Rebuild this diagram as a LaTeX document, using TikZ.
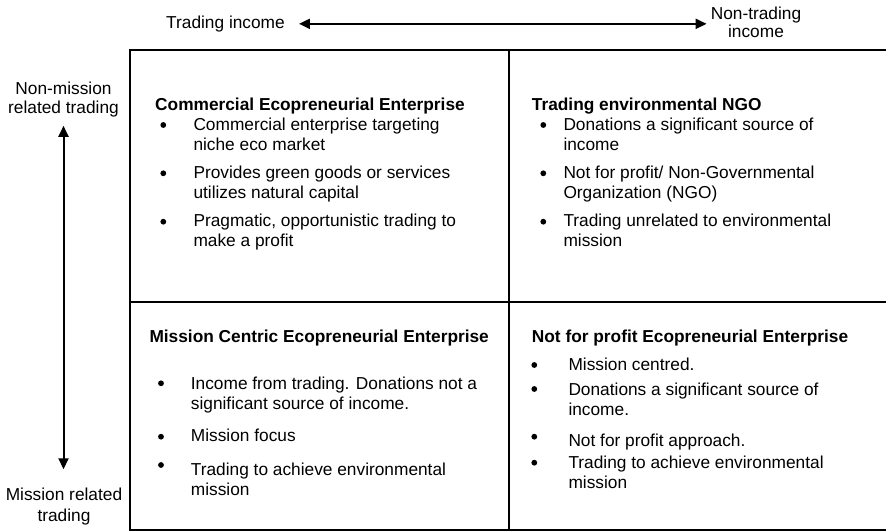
\documentclass[tikz,border=0pt]{standalone}
\usepackage{fontspec}
\setmainfont{Liberation Sans}
\usepackage{tikz}
\usetikzlibrary{arrows.meta}
\usetikzlibrary{positioning}
\tikzset{>={Triangle[length=11pt,width=10pt]},
  lbl/.style={font=\fontsize{17.3}{20}\selectfont, inner sep=0pt, align=center},
  txt/.style={font=\fontsize{17.3}{20}\selectfont, inner sep=0pt, align=left, anchor=base west},
  head/.style={txt, font=\fontsize{17.3}{20}\selectfont\bfseries},
  frame/.style={line width=2pt},
  axis/.style={<->, line width=2pt}}

\begin{document}
\begin{tikzpicture}[x=1pt,y=-1pt,line cap=round]

  \useasboundingbox (0,0) rectangle (886,532);

  % axes (a node's base is the baseline of its last line)
  \node [lbl, anchor=base west] (trade) at (166,28.3) {Trading income};
  \node [lbl, anchor=base, font=\fontsize{17.3}{18}\selectfont] (nontrade) at (756,37.3) {Non-trading\\income};
  \draw [axis, shorten <=14pt, shorten >=4pt] (trade.east) -- (nontrade.west |- trade.east);

  \node [lbl, anchor=base] (nonmis) at (63.5,114) {Non-mission\\related trading};
  \node [lbl, anchor=base, font=\fontsize{17.3}{21.7}\selectfont] (mis) at (64,521.7) {Mission related\\trading};
  \draw [axis, shorten <=8pt, shorten >=18pt] (nonmis.south) -- (nonmis.south |- mis.north);

  % grid
  \draw [frame] (130,50) rectangle (892,529.5);
  \draw [frame] (509.3,50) -- (509.3,529.5);
  \draw [frame] (130,301.7) -- (892,301.7);

  \foreach \x/\y in {163.3/125, 163.3/173.3, 163.3/221.7,
                     543.3/125, 543.3/173.3, 543.3/221.7,
                     161/383.3, 161/436.7, 161/465,
                     534.3/365, 534.3/389, 534.3/436.7, 534.3/462.7}
    \fill (\x,\y) circle (2.9pt);

  \node [head] (comm) at (155,110.7) {Commercial Ecopreneurial Enterprise};
  \node [txt] (comm1) at (193.3,150) {Commercial enterprise targeting\\niche eco market};
  \node [txt] (comm2) at (193.3,198.3) {Provides green goods or services\\utilizes natural capital};
  \node [txt] (comm3) at (193.3,246.7) {Pragmatic, opportunistic trading to\\make a profit};

  \node [head] (ngo) at (531.7,110.7) {Trading environmental NGO};
  \node [txt] (ngo1) at (563.3,150) {Donations a significant source of\\income};
  \node [txt] (ngo2) at (563.3,198.3) {Not for profit/ Non-Governmental\\Organization (NGO)};
  \node [txt] (ngo3) at (563.3,246.7) {Trading unrelated to environmental\\mission};

  \node [head] (centric) at (149.3,342.3) {Mission Centric Ecopreneurial Enterprise};
  \node [txt] (centric1) at (190.7,409.3) {Income from trading. Donations not a\\significant source of income.};
  \node [txt] (centric2) at (190.7,441.7) {Mission focus};
  \node [txt] (centric3) at (190.7,495) {Trading to achieve environmental\\mission};

  \node [head] (nfp) at (531.7,342.3) {Not for profit Ecopreneurial Enterprise};
  \node [txt] (nfp1) at (568.3,370) {Mission centred.};
  \node [txt] (nfp2) at (568.3,415) {Donations a significant source of\\income.};
  \node [txt] (nfp3) at (568.3,446.7) {Not for profit approach.};
  \node [txt] (nfp4) at (568.3,488.3) {Trading to achieve environmental\\mission};

\end{tikzpicture}
\end{document}
